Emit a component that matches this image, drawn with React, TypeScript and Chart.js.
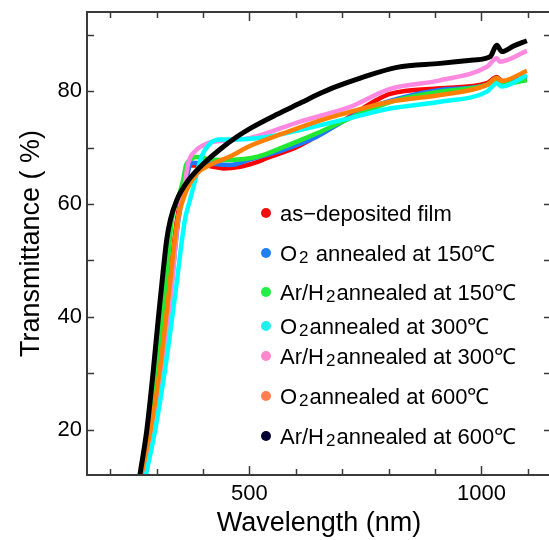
import { useEffect, useRef } from "react";
import { Chart, registerables } from "chart.js";

Chart.register(...registerables);

// ---------- data ----------
const seriesLabels = [
  "as\u2212deposited film",
  "O_2 annealed at 150\u2103",
  "Ar/H_2annealed at 150\u2103",
  "O_2annealed at 300\u2103",
  "Ar/H_2annealed at 300\u2103",
  "O_2annealed at 600\u2103",
  "Ar/H_2annealed at 600\u2103",
];

const asDeposited: [number, number][] = [
  [270, 12], [287, 20], [305, 30.6], [325, 43.9], [344, 57.2], [360, 63.5], [372, 66.8], [385, 66.8],
  [401, 66.9], [422, 66.6], [444, 66.3], [480, 66.6], [519, 67.5], [537, 68.1], [600, 70], [645, 72],
  [717, 75.5], [774, 78.4], [803, 79.5], [911, 80.5], [1012, 81.4], [1033, 82.5], [1044, 81.8], [1098, 82.1],
];
const o2At150: [number, number][] = [
  [275, 12], [292, 20], [311, 30.6], [330, 43.9], [347, 57.2], [362, 63.5], [375, 67.3], [408, 67.2],
  [458, 66.9], [502, 67.9], [574, 69.6], [645, 71.9], [695, 74.3], [753, 76.8], [818, 78.6], [911, 80.2],
  [1012, 81.1], [1033, 82.3], [1044, 81.6], [1098, 82.5],
];
const arH2At150: [number, number][] = [
  [269, 12], [285, 20], [300, 30.6], [318, 43.9], [333, 57.2], [350, 62], [358, 64.5], [363, 66.8],
  [372, 67.8], [387, 68.3], [415, 67.9], [458, 67.8], [519, 68.4], [574, 70.1], [645, 72.5], [717, 75.2],
  [810, 78.2], [911, 79.9], [1012, 81.1], [1033, 82], [1044, 81.3], [1098, 81.9],
];
const o2At300: [number, number][] = [
  [277, 12], [297, 20], [318, 30.6], [340, 43.9], [361, 57.2], [372, 60.7], [383, 64.2], [397, 68.4],
  [415, 70.7], [437, 71.4], [458, 71.4], [510, 71.6], [560, 72.2], [609, 73.1], [717, 75.2], [803, 76.9],
  [911, 78.1], [1012, 79.9], [1033, 81.4], [1044, 80.8], [1098, 82.8],
];
const arH2At300: [number, number][] = [
  [271, 12], [290, 20], [310, 30.6], [331, 43.9], [346, 57.2], [361, 63.7], [368, 67.2], [385, 69.5],
  [401, 70.4], [415, 70.9], [458, 71.3], [502, 71.7], [609, 74.6], [717, 77.2], [803, 80.4], [911, 81.9],
  [1012, 84.3], [1033, 85.8], [1040, 85.2], [1098, 87.1],
];
const o2At600: [number, number][] = [
  [267, 12], [287, 20], [307, 30.6], [326, 43.9], [344, 56.5], [365, 62.5], [387, 65.4], [415, 66.9],
  [458, 68.4], [502, 70.3], [573, 72.5], [645, 74.6], [717, 76.3], [803, 78.1], [911, 79.3], [1012, 81.1],
  [1033, 82.3], [1044, 81.8], [1098, 83.6],
];
const arH2At600: [number, number][] = [
  [264, 12], [279, 20], [293, 30.6], [304, 40], [314, 48], [322, 53.8], [330, 57.3], [343, 60.6],
  [365, 63.8], [397, 66.8], [437, 69.7], [473, 71.9], [502, 73.4], [560, 75.9], [613, 78], [645, 79.3],
  [681, 80.6], [739, 82.3], [818, 84.2], [911, 84.9], [983, 85.5], [1019, 86.1], [1033, 88.1], [1044, 87],
  [1070, 88], [1098, 88.9],
];

const xMajorTicks = [500, 1000];
const xMinorTicks = [200, 300, 400, 600, 700, 800, 900, 1100];
const yMajorTicks = [20, 40, 60, 80];
const yMinorTicks = [30, 50, 70, 90];

// ---------- styles ----------
const lineColors = ["#ff0000", "#1e78ff", "#22e833", "#00ffff", "#ff88e0", "#ff8000", "#000000"];
const dotColors = ["#ee1111", "#2080f0", "#22ee44", "#22eeee", "#ff88cc", "#ff7f50", "#000033"];
const drawOrder = [6, 5, 4, 2, 3, 1, 0];
const legendRowCenters = [213, 253, 292, 326, 356, 396, 436];
const FONT = "'Liberation Sans', Arial, Helvetica, sans-serif";

const allSeries = [asDeposited, o2At150, arH2At150, o2At300, arH2At300, o2At600, arH2At600];

const framePlugin = {
  id: "frameTicksLegend",
  afterDatasetsDraw(chart: any) {
    const { ctx, chartArea: a, scales } = chart;
    const x = scales.x;
    const y = scales.y;
    ctx.save();
    ctx.strokeStyle = "#3a3a3a";
    ctx.lineWidth = 2;
    ctx.strokeRect(a.left, a.top, a.right - a.left, a.bottom - a.top);
    ctx.lineWidth = 1.5;
    ctx.beginPath();
    const xt = (v: number, len: number) => {
      const px = Math.round(x.getPixelForValue(v)) + 0.5;
      ctx.moveTo(px, a.bottom);
      ctx.lineTo(px, a.bottom - len);
      ctx.moveTo(px, a.top);
      ctx.lineTo(px, a.top + len);
    };
    const yt = (v: number, len: number) => {
      const py = Math.round(y.getPixelForValue(v)) + 0.5;
      ctx.moveTo(a.left, py);
      ctx.lineTo(a.left + len, py);
      ctx.moveTo(a.right, py);
      ctx.lineTo(a.right - len, py);
    };
    xMajorTicks.forEach((v) => xt(v, 9));
    xMinorTicks.forEach((v) => xt(v, 6));
    yMajorTicks.forEach((v) => yt(v, 7));
    yMinorTicks.forEach((v) => yt(v, 7));
    ctx.stroke();

    // legend
    chart.data.datasets.forEach((ds: any, i: number) => {
      const cy = legendRowCenters[i];
      ctx.fillStyle = dotColors[i];
      ctx.beginPath();
      ctx.arc(266, cy, 5, 0, Math.PI * 2);
      ctx.fill();
      ctx.fillStyle = "#000";
      ctx.textBaseline = "alphabetic";
      ctx.textAlign = "left";
      const base = cy + 8;
      let cx = 280;
      const parts = String(ds.label).split("_");
      parts.forEach((p: string, k: number) => {
        if (k > 0) {
          ctx.font = `17px ${FONT}`;
          cx += 2;
          ctx.fillText(p[0], cx, base + 2);
          cx += ctx.measureText(p[0]).width + 1;
          p = p.slice(1);
        }
        ctx.font = `22px ${FONT}`;
        ctx.fillText(p, cx, base);
        cx += ctx.measureText(p).width;
      });
    });
    ctx.restore();
  },
};

export default function App() {
  const ref = useRef<HTMLCanvasElement>(null);
  useEffect(() => {
    const chart = new Chart(ref.current!, {
      type: "line",
      data: {
        datasets: allSeries.map((s, i) => ({
          label: seriesLabels[i],
          data: s.map(([nm, t]) => ({ x: nm, y: t })),
          borderColor: lineColors[i],
          backgroundColor: lineColors[i],
          borderWidth: i === 6 ? 5 : 4.5,
          pointRadius: 0,
          tension: 0.4,
          cubicInterpolationMode: "monotone",
          order: drawOrder[i],
          clip: 0,
          fill: false,
        })),
      } as any,
      options: {
        animation: false,
        responsive: false,
        devicePixelRatio: 1,
        layout: { padding: { left: 0, right: 9, top: 12, bottom: 0 } },
        plugins: { legend: { display: false }, tooltip: { enabled: false } },
        scales: {
          x: {
            type: "linear",
            min: 150,
            max: 1150,
            afterBuildTicks: (s: any) => {
              s.ticks = xMajorTicks.map((v) => ({ value: v }));
            },
            afterFit: (s: any) => {
              s.height = 65;
              s.paddingLeft = 0;
              s.paddingRight = 0;
            },
            ticks: {
              font: { size: 22, family: FONT },
              color: "#000",
              padding: 6,
              maxRotation: 0,
              autoSkip: false,
              callback: (v: any) => String(v),
            },
            grid: { display: false, drawTicks: false },
            border: { display: false },
            title: {
              display: true,
              text: "Wavelength (nm)",
              font: { size: 27, family: FONT },
              color: "#000",
              padding: { top: 0, bottom: 0 },
            },
          },
          y: {
            type: "linear",
            min: 12,
            max: 94,
            afterBuildTicks: (s: any) => {
              s.ticks = yMajorTicks.map((v) => ({ value: v }));
            },
            afterFit: (s: any) => {
              s.width = 87;
              s.paddingTop = 0;
              s.paddingBottom = 0;
            },
            ticks: {
              font: { size: 22, family: FONT },
              color: "#000",
              padding: 5,
              autoSkip: false,
              callback: (v: any) => String(v),
            },
            grid: { display: false, drawTicks: false },
            border: { display: false },
            title: {
              display: true,
              text: "Transmittance ( %)",
              font: { size: 27, family: FONT },
              color: "#000",
              padding: { top: 15, bottom: 0 },
            },
          },
        },
      } as any,
      plugins: [framePlugin],
    });
    return () => chart.destroy();
  }, []);
  return (
    <div style={{ position: "absolute", left: 0, top: 0, width: 549, height: 540, overflow: "hidden", background: "#fff" }}>
      <canvas ref={ref} width={560} height={540} style={{ display: "block", width: 560, height: 540 }} />
    </div>
  );
}
